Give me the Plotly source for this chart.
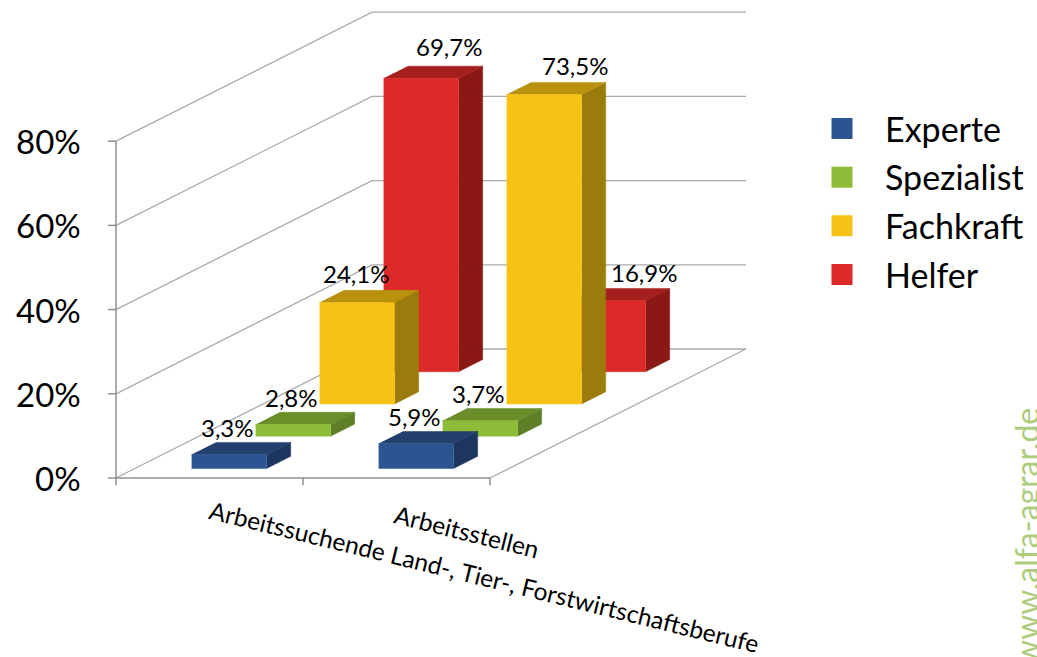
import plotly.graph_objects as go

categories = ["Arbeitssuchende Land-, Tier-, Forstwirtschaftsberufe", "Arbeitsstellen"]
series_names = ["Experte", "Spezialist", "Fachkraft", "Helfer"]
experte = [3.3, 5.9]
spezialist = [2.8, 3.7]
fachkraft = [24.1, 73.5]
helfer = [69.7, 16.9]
y_ticks = [0, 20, 40, 60, 80]
y_tick_labels = ["0%", "20%", "40%", "60%", "80%"]

series_values = [experte, spezialist, fachkraft, helfer]
FRONT = ["#2C5491", "#8CBC38", "#F5C316", "#DB2A27"]
TOP = ["#223F6E", "#6B8E2B", "#B8920E", "#A51F1D"]
SIDE = ["#1D3660", "#5E7F26", "#9A7B0C", "#8A1815"]
GRID = "#ababab"
AXIS = "#8f8f8f"
FONT = "Lato"

# oblique projection of the 3D chart: (category, value, depth) -> picture position
X0, Y0 = 116, 478
CAT_W = 187
PER_PCT = 84.2 / 20
DEPTH_DX, DEPTH_DY = 256, -129
BAR_W = 75 / CAT_W
BAR_LEFT = 0.303
BAR_D0, BAR_DD = 0.074, 0.094
DEPTH_STEP = 0.25
YMAX = 80


def proj(c, v, d):
    return X0 + c * CAT_W + d * DEPTH_DX, Y0 - v * PER_PCT + d * DEPTH_DY


def line(points, color, width):
    xs, ys = zip(*[proj(*p) for p in points])
    return go.Scatter(x=list(xs), y=list(ys), mode="lines", line=dict(color=color, width=width),
                      hoverinfo="skip", showlegend=False)


def face(points, color, name):
    xs, ys = zip(*[proj(*p) for p in points])
    return go.Scatter(x=list(xs), y=list(ys), mode="lines", fill="toself", fillcolor=color,
                      line=dict(color=color, width=0.5), name=name, hoverinfo="skip",
                      showlegend=False)


fig = go.Figure()
n_cat = len(categories)

# walls and floor
for v in y_ticks:
    fig.add_trace(line([(0, v, 0), (0, v, 1), (n_cat, v, 1)], GRID, 1.3))
fig.add_trace(line([(n_cat, 0, 0), (n_cat, 0, 1)], GRID, 1.3))
fig.add_trace(line([(0, 0, 0), (0, YMAX, 0)], AXIS, 1.5))
fig.add_trace(line([(0, 0, 0), (n_cat, 0, 0)], AXIS, 1.5))
for i in range(n_cat + 1):
    fig.add_trace(line([(i, 0, 0), (i, -1.7, 0)], AXIS, 1.5))
for v in y_ticks:
    xa, ya = proj(0, v, 0)
    fig.add_trace(go.Scatter(x=[xa - 8, xa], y=[ya, ya], mode="lines", line=dict(color=AXIS, width=1.5),
                             hoverinfo="skip", showlegend=False))

# bars, back series first
for s in range(len(series_names) - 1, -1, -1):
    d0 = BAR_D0 + s * DEPTH_STEP
    d1 = d0 + BAR_DD
    for c in range(n_cat):
        v = series_values[s][c]
        c0 = c + BAR_LEFT
        c1 = c0 + BAR_W
        fig.add_trace(face([(c1, 0, d0), (c1, 0, d1), (c1, v, d1), (c1, v, d0)], SIDE[s], series_names[s]))
        fig.add_trace(face([(c0, v, d0), (c1, v, d0), (c1, v, d1), (c0, v, d1)], TOP[s], series_names[s]))
        fig.add_trace(face([(c0, 0, d0), (c1, 0, d0), (c1, v, d0), (c0, v, d0)], FRONT[s], series_names[s]))

# legend entries
for s, name in enumerate(series_names):
    fig.add_trace(go.Scatter(x=[None], y=[None], mode="markers", name=name, legendgroup=name,
                             marker=dict(symbol="square", size=16, color=FRONT[s],
                                         line=dict(color=FRONT[s], width=5))))

annotations = []


def text(x, y, s, size, angle=0, color="#000000", xanchor="center", opacity=1):
    annotations.append(dict(x=x, y=y, xref="x", yref="y", text=s, showarrow=False, xanchor=xanchor,
                            yanchor="middle", textangle=angle, opacity=opacity,
                            font=dict(family=FONT, size=size, color=color)))


# data labels: right back top corner of each bar, shifted; three were moved by hand in the original
LABEL_DX, LABEL_DY = -63, -15
label_nudge = {(3, 0): (29, -5), (2, 1): (32, -2), (3, 1): (37, -1), (2, 0): (0, -2)}
for s in range(len(series_names)):
    d1 = BAR_D0 + s * DEPTH_STEP + BAR_DD
    for c in range(n_cat):
        v = series_values[s][c]
        x, y = proj(c + BAR_LEFT + BAR_W, v, d1)
        nx, ny = label_nudge.get((s, c), (0, 0))
        text(x + LABEL_DX + nx, y + LABEL_DY + ny, f"{v:.1f}%".replace(".", ","), 24)

# value axis labels
for v, lab in zip(y_ticks, y_tick_labels):
    xa, ya = proj(0, v, 0)
    text(xa - 33, ya, lab, 33, xanchor="right")

# category labels
text(484, 576, categories[0], 24.5, angle=13.8)
text(467, 531, categories[1], 24.5, angle=14)

# watermark
text(1026, 537, "www.alfa-agrar.de", 32, angle=-90, color="#9cc05f", opacity=0.8)

fig.update_layout(
    width=1037, height=657, autosize=False,
    margin=dict(l=0, r=0, t=0, b=0),
    paper_bgcolor="#ffffff", plot_bgcolor="#ffffff",
    xaxis=dict(range=[0, 1037], visible=False, fixedrange=True),
    yaxis=dict(range=[657, 0], visible=False, fixedrange=True),
    annotations=annotations,
    legend=dict(x=0.7705, y=0.848, xanchor="left", yanchor="top", traceorder="grouped",
                tracegroupgap=1.5, itemwidth=76, font=dict(family=FONT, size=34, color="#000000"),
                bgcolor="rgba(0,0,0,0)"),
)
fig.write_html("out.html", config={"displayModeBar": False},
               post_script="document.body.style.margin='0';document.body.style.overflow='hidden';")
